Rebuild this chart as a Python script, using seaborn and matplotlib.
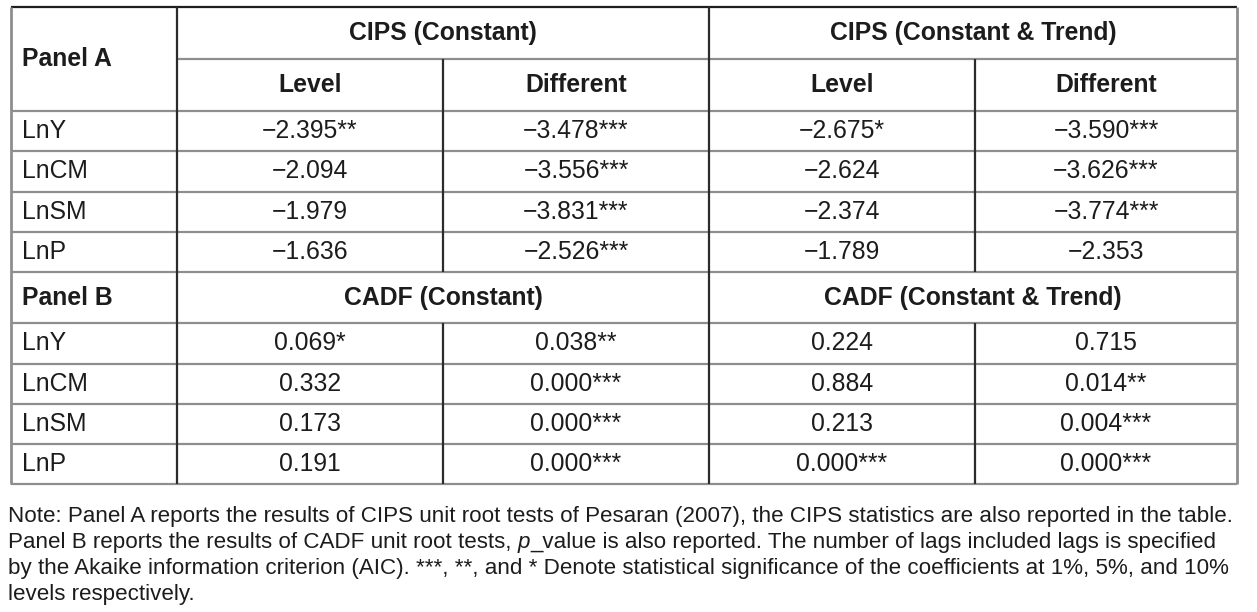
import matplotlib
matplotlib.use("Agg")
import matplotlib.pyplot as plt
import seaborn as sns

sns.set_theme(style="white")
plt.rcParams['font.family'] = ['Liberation Sans', 'DejaVu Sans']

# table content
group_a = ["CIPS (Constant)", "CIPS (Constant & Trend)"]
group_b = ["CADF (Constant)", "CADF (Constant & Trend)"]
sub_headers = ["Level", "Different", "Level", "Different"]
variables = ["LnY", "LnCM", "LnSM", "LnP"]

panel_a = [
    ["\u22122.395**", "\u22123.478***", "\u22122.675*", "\u22123.590***"],
    ["\u22122.094", "\u22123.556***", "\u22122.624", "\u22123.626***"],
    ["\u22121.979", "\u22123.831***", "\u22122.374", "\u22123.774***"],
    ["\u22121.636", "\u22122.526***", "\u22121.789", "\u22122.353"],
]
panel_b = [
    ["0.069*", "0.038**", "0.224", "0.715"],
    ["0.332", "0.000***", "0.884", "0.014**"],
    ["0.173", "0.000***", "0.213", "0.004***"],
    ["0.191", "0.000***", "0.000***", "0.000***"],
]

note_lines = [
    "Note: Panel A reports the results of CIPS unit root tests of Pesaran (2007), the CIPS statistics are also reported in the table.",
    ["Panel B reports the results of CADF unit root tests, ", "p", "_value is also reported. The number of lags included lags is specified"],
    "by the Akaike information criterion (AIC). ***, **, and * Denote statistical significance of the coefficients at 1%, 5%, and 10%",
    "levels respectively.",
]

# layout (pixels)
W, H = 1257, 612
col_x = [11, 177, 443, 709, 975, 1237]
y_top, y_mid, y_head = 7, 59, 111
row_h = 40.3
rows_a = [y_head + i * row_h for i in range(5)]
y_pb = rows_a[-1] + 51
rows_b = [y_pb + i * row_h for i in range(5)]

dark = "#2b2b2b"
grey = "#8e8e8e"
txt = "#1c1c1c"
fs = 17.8

fig = plt.figure(figsize=(W / 100, H / 100), dpi=100)
ax = fig.add_axes([0, 0, 1, 1])
ax.set_xlim(0, W)
ax.set_ylim(H, 0)
ax.axis("off")

lw = 1.6
# horizontal rules
ax.hlines(y_top, col_x[0], col_x[-1], color="#1e1e1e", lw=lw)
ax.hlines(y_mid, col_x[1], col_x[-1], color=grey, lw=lw)
for y in [y_head] + rows_a[1:] + rows_b:
    ax.hlines(y, col_x[0], col_x[-1], color=grey, lw=lw)
y_bot = rows_b[-1]

# vertical rules
ax.vlines([col_x[0], col_x[-1]], y_top, y_bot, color=grey, lw=lw + 0.4)
ax.vlines(col_x[1], y_top, y_bot, color=dark, lw=lw)
ax.vlines(col_x[3], y_top, y_bot, color=dark, lw=lw)
for cx in (col_x[2], col_x[4]):
    ax.vlines(cx, y_mid, rows_a[-1], color=dark, lw=lw)
    ax.vlines(cx, y_pb, y_bot, color=dark, lw=lw)

lab_x = 22
bold = dict(fontsize=fs, fontweight="bold", color=txt, va="center")
norm = dict(fontsize=fs, color=txt, va="center")

# header
ax.text(lab_x, (y_top + y_head) / 2, "Panel A", ha="left", **bold)
for g, name in enumerate(group_a):
    ax.text((col_x[1 + 2 * g] + col_x[3 + 2 * g]) / 2, (y_top + y_mid) / 2, name, ha="center", **bold)
for c, name in enumerate(sub_headers):
    ax.text((col_x[1 + c] + col_x[2 + c]) / 2, (y_mid + y_head) / 2, name, ha="center", **bold)

# panel A rows
for r, var in enumerate(variables):
    yc = (rows_a[r] + rows_a[r + 1]) / 2
    ax.text(lab_x, yc, var, ha="left", **norm)
    for c, val in enumerate(panel_a[r]):
        ax.text((col_x[1 + c] + col_x[2 + c]) / 2, yc, val, ha="center", **norm)

# panel B header
yc = (rows_a[-1] + y_pb) / 2
ax.text(lab_x, yc, "Panel B", ha="left", **bold)
for g, name in enumerate(group_b):
    ax.text((col_x[1 + 2 * g] + col_x[3 + 2 * g]) / 2, yc, name, ha="center", **bold)

# panel B rows
for r, var in enumerate(variables):
    yc = (rows_b[r] + rows_b[r + 1]) / 2
    ax.text(lab_x, yc, var, ha="left", **norm)
    for c, val in enumerate(panel_b[r]):
        ax.text((col_x[1 + c] + col_x[2 + c]) / 2, yc, val, ha="center", **norm)

# note
note_fs = 16.1
note_y0 = y_bot + 32
fig.canvas.draw()
renderer = fig.canvas.get_renderer()
inv = ax.transData.inverted()
for i, line in enumerate(note_lines):
    y = note_y0 + i * 26
    if isinstance(line, str):
        ax.text(8, y, line, fontsize=note_fs, color=txt, va="center", ha="left")
    else:
        x = 8
        for j, part in enumerate(line):
            t = ax.text(x, y, part, fontsize=note_fs, color=txt, va="center", ha="left",
                        fontstyle="italic" if part == "p" else "normal")
            bb = t.get_window_extent(renderer)
            x = inv.transform((bb.x1, bb.y0))[0]

fig.savefig("out.png", dpi=100)
